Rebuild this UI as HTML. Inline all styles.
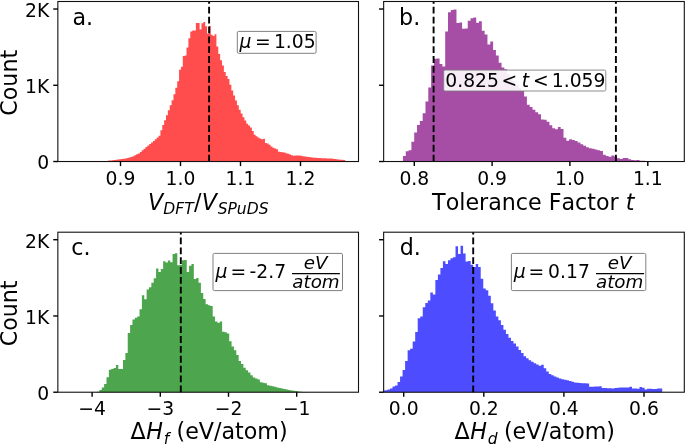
<!DOCTYPE html>
<html lang="en"><head><meta charset="utf-8"><title>Histograms</title>
<style>html,body{margin:0;padding:0;background:#fff;overflow:hidden}svg{display:block;will-change:transform;opacity:0.999}</style>
</head><body>
<svg width="685" height="445" viewBox="0 0 685 445" font-family="DejaVu Sans, Liberation Sans, sans-serif" style="font-kerning:none">
<rect x="0" y="0" width="685" height="445" fill="#ffffff"/>
<path d="M98.78,161.52L98.78,161.52L100.65,161.52L100.65,161.34L102.52,161.34L102.52,161.26L104.39,161.26L104.39,161.15L106.25,161.15L106.25,160.89L108.12,160.89L108.12,160.62L109.99,160.62L109.99,160.38L111.85,160.38L111.85,160.15L113.72,160.15L113.72,159.93L115.59,159.93L115.59,159.70L117.45,159.70L117.45,159.47L119.32,159.47L119.32,159.25L121.19,159.25L121.19,159.02L123.06,159.02L123.06,158.80L124.92,158.80L124.92,158.42L126.79,158.42L126.79,157.92L128.66,157.92L128.66,157.42L130.52,157.42L130.52,156.92L132.39,156.92L132.39,156.19L134.26,156.19L134.26,155.25L136.12,155.25L136.12,154.32L137.99,154.32L137.99,153.39L139.86,153.39L139.86,152.01L141.72,152.01L141.73,150.32L143.59,150.32L143.59,148.63L145.46,148.63L145.46,146.94L147.33,146.94L147.33,145.38L149.19,145.38L149.19,143.91L151.06,143.91L151.06,142.43L152.93,142.43L152.93,140.88L154.79,140.88L154.79,139.17L156.66,139.17L156.66,137.45L158.53,137.45L158.53,135.73L160.40,135.73L160.40,130.27L162.26,130.27L162.26,125.09L164.13,125.09L164.13,120.22L166.00,120.22L166.00,115.25L167.86,115.25L167.86,110.20L169.73,110.20L169.73,105.19L171.60,105.19L171.60,100.19L173.46,100.19L173.46,94.23L175.33,94.23L175.33,87.76L177.20,87.76L177.20,81.34L179.06,81.34L179.06,69.80L180.93,69.80L180.93,66.83L182.80,66.83L182.80,55.93L184.67,55.93L184.67,55.56L186.53,55.56L186.53,47.50L188.40,47.50L188.40,38.20L190.27,38.20L190.27,31.50L192.13,31.50L192.13,30.60L194.00,30.60L194.00,30.60L195.87,30.60L195.87,23.00L197.73,23.00L197.74,23.00L199.60,23.00L199.60,29.40L201.47,29.40L201.47,23.30L203.34,23.30L203.34,22.00L205.20,22.00L205.20,26.20L207.07,26.20L207.07,33.50L208.94,33.50L208.94,26.00L210.80,26.00L210.80,34.70L212.67,34.70L212.67,36.10L214.54,36.10L214.54,34.20L216.41,34.20L216.41,46.40L218.27,46.40L218.27,54.04L220.14,54.04L220.14,60.20L222.01,60.20L222.01,65.39L223.87,65.39L223.87,71.88L225.74,71.88L225.74,75.90L227.61,75.90L227.61,79.03L229.47,79.03L229.47,84.70L231.34,84.70L231.34,90.57L233.21,90.57L233.21,95.57L235.07,95.57L235.07,100.51L236.94,100.51L236.94,105.37L238.81,105.37L238.81,109.81L240.68,109.81L240.68,113.59L242.54,113.59L242.54,117.18L244.41,117.18L244.41,120.49L246.28,120.49L246.28,123.81L248.14,123.81L248.14,125.42L250.01,125.42L250.01,127.57L251.88,127.57L251.88,131.05L253.75,131.05L253.75,134.64L255.61,134.64L255.61,136.14L257.48,136.14L257.48,137.50L259.35,137.50L259.35,138.38L261.21,138.38L261.21,139.16L263.08,139.16L263.08,138.72L264.95,138.72L264.95,143.05L266.81,143.05L266.81,143.51L268.68,143.51L268.68,144.70L270.55,144.70L270.55,146.38L272.42,146.38L272.42,147.65L274.28,147.65L274.28,148.43L276.15,148.43L276.15,149.21L278.02,149.21L278.02,151.81L279.88,151.81L279.88,152.07L281.75,152.07L281.75,152.34L283.62,152.34L283.62,152.61L285.48,152.61L285.48,153.13L287.35,153.13L287.35,153.64L289.22,153.64L289.22,154.41L291.09,154.41L291.09,155.21L292.95,155.21L292.95,155.76L294.82,155.76L294.82,155.60L296.69,155.60L296.69,155.45L298.55,155.45L298.55,155.59L300.42,155.59L300.42,155.87L302.29,155.87L302.29,156.15L304.15,156.15L304.15,156.43L306.02,156.43L306.02,156.70L307.89,156.70L307.89,156.96L309.76,156.96L309.75,157.22L311.62,157.22L311.62,157.47L313.49,157.47L313.49,157.71L315.36,157.71L315.36,157.83L317.22,157.83L317.22,157.94L319.09,157.94L319.09,158.06L320.96,158.06L320.96,158.17L322.82,158.17L322.82,158.25L324.69,158.25L324.69,158.32L326.56,158.32L326.56,158.39L328.43,158.39L328.43,158.46L330.29,158.46L330.29,158.62L332.16,158.62L332.16,158.85L334.03,158.85L334.03,159.08L335.89,159.08L335.89,159.32L337.76,159.32L337.76,159.53L339.63,159.53L339.63,159.69L341.49,159.69L341.49,159.84L343.36,159.84L343.36,159.99L345.23,159.99L345.23,161.52Z" fill="#ff4d4d"/>
<path d="M209.10,161.52L209.10,1.50" stroke="#000" stroke-width="1.9" stroke-dasharray="6.8 3.06" fill="none"/>
<rect x="57.85" y="1.50" width="300.65" height="160.02" fill="none" stroke="#111" stroke-width="1.1"/>
<path d="M120.50,161.52v4.6" stroke="#000" stroke-width="1.4"/><text x="120.50" y="184.52" font-size="18.75" text-anchor="middle">0.9</text><path d="M180.50,161.52v4.6" stroke="#000" stroke-width="1.4"/><text x="180.50" y="184.52" font-size="18.75" text-anchor="middle">1.0</text><path d="M240.50,161.52v4.6" stroke="#000" stroke-width="1.4"/><text x="240.50" y="184.52" font-size="18.75" text-anchor="middle">1.1</text><path d="M300.50,161.52v4.6" stroke="#000" stroke-width="1.4"/><text x="300.50" y="184.52" font-size="18.75" text-anchor="middle">1.2</text>
<path d="M57.85,161.52h-4.6" stroke="#000" stroke-width="1.4"/><text x="49.25" y="169.32" font-size="18.75" text-anchor="end">0</text><path d="M57.85,85.27h-4.6" stroke="#000" stroke-width="1.4"/><text x="49.25" y="93.07" font-size="18.75" text-anchor="end">1K</text><path d="M57.85,9.02h-4.6" stroke="#000" stroke-width="1.4"/><text x="49.25" y="16.82" font-size="18.75" text-anchor="end">2K</text>
<text x="72.4" y="24.9" font-size="22.2">a.</text>
<rect x="237.30" y="31.40" width="78.80" height="21.90" rx="1.4" ry="1.4" fill="#fff" fill-opacity="1.0" stroke="#808080" stroke-opacity="1" stroke-width="1.0"/>
<text y="47.9" font-size="18.75"><tspan x="239.5" font-style="italic">μ</tspan><tspan x="255.1">=</tspan><tspan x="273.9">1.05</tspan></text>
<text y="209.7" font-size="22.2"><tspan x="148.1" font-style="italic">V</tspan><tspan font-size="15.54" dy="4.0" font-style="italic">DFT</tspan><tspan dy="-4.0" dx="0.4">/</tspan><tspan dx="0.3" font-style="italic">V</tspan><tspan font-size="15.54" dy="4.0" dx="0.6" font-style="italic">SPuDS</tspan></text>
<text transform="translate(17.4,82.8) rotate(-90)" font-size="22.2" text-anchor="middle">Count</text>
<path d="M400.13,161.52L400.13,161.05L402.94,161.05L402.94,155.90L405.76,155.90L405.76,151.20L408.58,151.20L408.58,150.20L411.40,150.20L411.40,141.70L414.21,141.70L414.21,132.60L417.03,132.60L417.03,124.90L419.85,124.90L419.85,121.00L422.66,121.00L422.66,113.30L425.48,113.30L425.48,101.60L428.30,101.60L428.30,87.40L431.12,87.40L431.12,65.50L433.93,65.50L433.93,58.80L436.75,58.80L436.75,58.50L439.57,58.50L439.57,64.00L442.38,64.00L442.38,66.60L445.20,66.60L445.20,31.60L448.02,31.60L448.02,12.30L450.83,12.30L450.83,9.90L453.65,9.90L453.65,9.50L456.47,9.50L456.47,23.10L459.28,23.10L459.28,22.40L462.10,22.40L462.10,28.80L464.92,28.80L464.92,28.60L467.74,28.60L467.74,20.70L470.55,20.70L470.55,18.20L473.37,18.20L473.37,17.60L476.19,17.60L476.19,22.70L479.00,22.70L479.00,21.20L481.82,21.20L481.82,30.70L484.64,30.70L484.64,34.60L487.45,34.60L487.45,44.40L490.27,44.40L490.27,41.40L493.09,41.40L493.09,50.00L495.91,50.00L495.91,55.40L498.72,55.40L498.72,62.80L501.54,62.80L501.54,67.40L504.36,67.40L504.36,69.16L507.17,69.16L507.17,74.37L509.99,74.37L509.99,78.13L512.81,78.13L512.81,81.62L515.62,81.62L515.62,85.03L518.44,85.03L518.44,87.85L521.26,87.85L521.26,90.67L524.08,90.67L524.08,96.57L526.89,96.57L526.89,104.67L529.71,104.67L529.71,106.99L532.53,106.99L532.53,109.74L535.34,109.74L535.34,112.23L538.16,112.23L538.16,114.17L540.98,114.17L540.98,119.52L543.79,119.52L543.79,119.82L546.61,119.82L546.61,121.68L549.43,121.68L549.43,125.34L552.25,125.34L552.25,128.15L555.06,128.15L555.06,129.26L557.88,129.26L557.88,126.91L560.70,126.91L560.70,128.97L563.51,128.97L563.51,137.67L566.33,137.67L566.33,140.75L569.15,140.75L569.15,139.17L571.97,139.17L571.97,139.92L574.78,139.92L574.78,140.93L577.60,140.93L577.60,142.58L580.42,142.58L580.42,144.29L583.23,144.29L583.23,145.76L586.05,145.76L586.05,147.21L588.87,147.21L588.87,148.26L591.68,148.26L591.68,148.82L594.50,148.82L594.50,149.38L597.32,149.38L597.32,150.31L600.13,150.31L600.13,151.05L602.95,151.05L602.95,154.73L605.77,154.73L605.77,155.91L608.59,155.91L608.59,156.77L611.40,156.77L611.40,155.42L614.22,155.42L614.22,156.38L617.04,156.38L617.04,158.30L619.85,158.30L619.85,159.00L622.67,159.00L622.67,158.10L625.49,158.10L625.49,158.10L628.31,158.10L628.31,159.20L631.12,159.20L631.12,159.90L633.94,159.90L633.94,160.30L636.76,160.30L636.76,160.10L639.57,160.10L639.57,160.80L642.39,160.80L642.39,160.85L645.21,160.85L645.21,160.90L648.02,160.90L648.02,160.95L650.84,160.95L650.84,161.12L653.66,161.12L653.66,161.52Z" fill="#a64da6"/>
<path d="M433.60,161.52L433.60,1.50" stroke="#000" stroke-width="1.9" stroke-dasharray="6.8 3.06" fill="none"/>
<path d="M615.90,161.52L615.90,1.50" stroke="#000" stroke-width="1.9" stroke-dasharray="6.8 3.06" fill="none"/>
<rect x="383.65" y="1.50" width="300.65" height="160.02" fill="none" stroke="#111" stroke-width="1.1"/>
<path d="M414.30,161.52v4.6" stroke="#000" stroke-width="1.4"/><text x="414.30" y="184.52" font-size="18.75" text-anchor="middle">0.8</text><path d="M492.10,161.52v4.6" stroke="#000" stroke-width="1.4"/><text x="492.10" y="184.52" font-size="18.75" text-anchor="middle">0.9</text><path d="M569.90,161.52v4.6" stroke="#000" stroke-width="1.4"/><text x="569.90" y="184.52" font-size="18.75" text-anchor="middle">1.0</text><path d="M647.80,161.52v4.6" stroke="#000" stroke-width="1.4"/><text x="647.80" y="184.52" font-size="18.75" text-anchor="middle">1.1</text>
<path d="M383.65,161.52h-4.6" stroke="#000" stroke-width="1.4"/><path d="M383.65,85.27h-4.6" stroke="#000" stroke-width="1.4"/><path d="M383.65,9.02h-4.6" stroke="#000" stroke-width="1.4"/>
<text x="399.1" y="24.9" font-size="22.2">b.</text>
<rect x="443.70" y="70.10" width="162.10" height="20.90" rx="1.4" ry="1.4" fill="#fff" fill-opacity="0.9" stroke="#808080" stroke-opacity="0.9" stroke-width="1.0"/>
<text y="86.8" font-size="18.75"><tspan x="445.3">0.825</tspan><tspan x="501.6">&lt;</tspan><tspan x="521.8" font-style="italic">t</tspan><tspan x="533.1">&lt;</tspan><tspan x="551.8">1.059</tspan></text>
<text y="209.8" font-size="22.2"><tspan x="432.1">Tolerance Factor </tspan><tspan font-style="italic">t</tspan></text>
<path d="M97.06,392.22L97.06,391.81L99.42,391.81L99.42,389.90L101.78,389.90L101.78,387.40L104.14,387.40L104.14,384.00L106.50,384.00L106.50,377.30L108.86,377.30L108.86,369.70L111.22,369.70L111.22,368.90L113.58,368.90L113.58,368.00L115.94,368.00L115.94,365.10L118.30,365.10L118.30,368.90L120.66,368.90L120.66,368.90L123.02,368.90L123.02,360.00L125.38,360.00L125.38,352.90L127.74,352.90L127.74,333.00L130.10,333.00L130.10,325.00L132.46,325.00L132.46,319.60L134.82,319.60L134.82,317.80L137.18,317.80L137.18,316.50L139.54,316.50L139.54,309.20L141.90,309.20L141.90,295.30L144.26,295.30L144.26,299.30L146.62,299.30L146.62,289.50L148.98,289.50L148.98,287.20L151.34,287.20L151.34,282.70L153.70,282.70L153.70,278.20L156.06,278.20L156.06,268.40L158.42,268.40L158.42,271.90L160.78,271.90L160.78,269.00L163.14,269.00L163.14,261.30L165.50,261.30L165.50,262.60L167.86,262.60L167.86,260.60L170.22,260.60L170.22,262.30L172.58,262.30L172.58,254.10L174.94,254.10L174.94,253.30L177.30,253.30L177.30,265.20L179.66,265.20L179.66,264.80L182.02,264.80L182.02,260.30L184.38,260.30L184.38,259.90L186.74,259.90L186.74,272.00L189.10,272.00L189.10,265.70L191.46,265.70L191.46,263.90L193.82,263.90L193.82,279.10L196.18,279.10L196.18,277.90L198.54,277.90L198.54,282.70L200.90,282.70L200.90,292.90L203.26,292.90L203.26,298.90L205.62,298.90L205.62,304.30L207.98,304.30L207.98,305.20L210.34,305.20L210.34,306.10L212.70,306.10L212.70,316.40L215.06,316.40L215.06,321.40L217.42,321.40L217.42,322.63L219.78,322.63L219.78,321.48L222.14,321.48L222.14,331.80L224.50,331.80L224.50,332.17L226.86,332.17L226.86,333.44L229.22,333.44L229.22,341.27L231.58,341.27L231.58,346.50L233.94,346.50L233.94,350.28L236.30,350.28L236.30,354.96L238.66,354.96L238.66,360.91L241.02,360.91L241.02,363.96L243.38,363.96L243.38,367.75L245.74,367.75L245.74,370.18L248.10,370.18L248.10,372.41L250.46,372.41L250.46,375.21L252.82,375.21L252.82,377.55L255.18,377.55L255.18,378.53L257.54,378.53L257.54,379.52L259.90,379.52L259.90,382.24L262.26,382.24L262.26,382.73L264.62,382.73L264.62,383.22L266.98,383.22L266.98,385.26L269.34,385.26L269.34,385.85L271.70,385.85L271.70,386.33L274.06,386.33L274.06,386.86L276.42,386.86L276.42,387.41L278.78,387.41L278.78,387.97L281.14,387.97L281.14,388.50L283.50,388.50L283.50,389.04L285.86,389.04L285.86,389.57L288.22,389.57L288.22,390.01L290.58,390.01L290.58,390.42L292.94,390.42L292.94,390.81L295.30,390.81L295.30,391.11L297.66,391.11L297.66,391.41L300.02,391.41L300.02,391.67L302.38,391.67L302.38,391.89L304.74,391.89L304.74,392.00L307.10,392.00L307.10,392.22Z" fill="#4da64d"/>
<path d="M180.80,392.22L180.80,232.20" stroke="#000" stroke-width="1.9" stroke-dasharray="6.8 3.06" fill="none"/>
<rect x="57.85" y="232.20" width="300.65" height="160.02" fill="none" stroke="#111" stroke-width="1.1"/>
<path d="M92.10,392.22v4.6" stroke="#000" stroke-width="1.4"/><text x="92.10" y="415.22" font-size="18.75" text-anchor="middle">−4</text><path d="M160.30,392.22v4.6" stroke="#000" stroke-width="1.4"/><text x="160.30" y="415.22" font-size="18.75" text-anchor="middle">−3</text><path d="M228.50,392.22v4.6" stroke="#000" stroke-width="1.4"/><text x="228.50" y="415.22" font-size="18.75" text-anchor="middle">−2</text><path d="M296.70,392.22v4.6" stroke="#000" stroke-width="1.4"/><text x="296.70" y="415.22" font-size="18.75" text-anchor="middle">−1</text>
<path d="M57.85,392.22h-4.6" stroke="#000" stroke-width="1.4"/><text x="49.25" y="400.02" font-size="18.75" text-anchor="end">0</text><path d="M57.85,315.97h-4.6" stroke="#000" stroke-width="1.4"/><text x="49.25" y="323.77" font-size="18.75" text-anchor="end">1K</text><path d="M57.85,239.72h-4.6" stroke="#000" stroke-width="1.4"/><text x="49.25" y="247.52" font-size="18.75" text-anchor="end">2K</text>
<text x="71.3" y="255.3" font-size="22.2">c.</text>
<rect x="213.00" y="253.40" width="129.50" height="37.20" rx="1.4" ry="1.4" fill="#fff" fill-opacity="1.0" stroke="#808080" stroke-opacity="1" stroke-width="1.0"/>
<text y="278.4" font-size="18.75"><tspan x="215.4" font-style="italic">μ</tspan><tspan x="230.5">=</tspan><tspan x="249.6">-2.7</tspan></text>
<path d="M292.0,273.6H339.9" stroke="#000" stroke-width="1.1"/>
<text font-size="18.3" font-style="italic"><tspan x="303.8" y="269.2">eV</tspan><tspan x="292.3" y="287.9">atom</tspan></text>
<text y="439.3" font-size="22.2"><tspan x="130.6">Δ</tspan><tspan dx="0.5" font-style="italic">H</tspan><tspan font-size="15.54" dy="5.0" dx="0.7" font-style="italic">f</tspan><tspan dy="-5.0" dx="0.3"> (eV/atom)</tspan></text>
<text transform="translate(17.4,313.4) rotate(-90)" font-size="22.2" text-anchor="middle">Count</text>
<path d="M383.60,392.22L383.60,390.60L384.95,390.60L384.95,390.30L387.47,390.30L387.47,389.40L389.99,389.40L389.99,388.40L392.51,388.40L392.51,386.50L395.03,386.50L395.03,385.50L397.55,385.50L397.55,381.90L400.07,381.90L400.07,376.40L402.59,376.40L402.59,370.00L405.11,370.00L405.11,361.00L407.63,361.00L407.63,350.20L410.15,350.20L410.15,348.70L412.67,348.70L412.67,341.60L415.19,341.60L415.19,332.00L417.72,332.00L417.72,318.20L420.24,318.20L420.24,316.50L422.76,316.50L422.76,307.30L425.28,307.30L425.28,303.00L427.80,303.00L427.80,300.60L430.32,300.60L430.32,292.50L432.84,292.50L432.84,294.40L435.36,294.40L435.36,280.10L437.88,280.10L437.88,274.40L440.40,274.40L440.40,268.10L442.92,268.10L442.92,261.30L445.44,261.30L445.44,264.10L447.96,264.10L447.96,260.30L450.48,260.30L450.48,258.20L453.00,258.20L453.00,257.20L455.52,257.20L455.52,246.20L458.04,246.20L458.04,253.90L460.56,253.90L460.56,245.70L463.08,245.70L463.08,253.50L465.61,253.50L465.60,261.50L468.13,261.50L468.13,261.00L470.65,261.00L470.65,264.80L473.17,264.80L473.17,267.00L475.69,267.00L475.69,264.10L478.21,264.10L478.21,267.00L480.73,267.00L480.73,278.70L483.25,278.70L483.25,288.50L485.77,288.50L485.77,290.30L488.29,290.30L488.29,295.73L490.81,295.73L490.81,303.25L493.33,303.25L493.33,310.48L495.85,310.48L495.85,316.48L498.37,316.48L498.37,320.34L500.89,320.34L500.89,325.07L503.41,325.07L503.41,329.68L505.93,329.68L505.93,333.90L508.45,333.90L508.45,337.74L510.97,337.74L510.97,340.92L513.49,340.92L513.49,343.59L516.01,343.59L516.01,346.62L518.54,346.62L518.54,349.97L521.06,349.97L521.06,353.12L523.58,353.12L523.58,356.20L526.10,356.20L526.10,358.29L528.62,358.29L528.62,360.22L531.14,360.22L531.14,361.71L533.66,361.71L533.66,363.20L536.18,363.20L536.18,364.56L538.70,364.56L538.70,365.87L541.22,365.87L541.22,364.86L543.74,364.86L543.74,368.36L546.26,368.36L546.26,371.62L548.78,371.62L548.78,374.03L551.30,374.03L551.30,375.31L553.82,375.31L553.82,376.59L556.34,376.59L556.34,377.57L558.86,377.57L558.86,378.52L561.38,378.52L561.38,379.27L563.90,379.27L563.90,379.80L566.42,379.80L566.42,380.34L568.95,380.34L568.95,381.03L571.47,381.03L571.47,381.85L573.99,381.85L573.99,382.62L576.51,382.62L576.51,382.80L579.03,382.80L579.03,382.99L581.55,382.99L581.55,383.17L584.07,383.17L584.07,383.35L586.59,383.35L586.59,383.54L589.11,383.54L589.11,386.76L591.63,386.76L591.63,386.65L594.15,386.65L594.15,386.54L596.67,386.54L596.67,386.42L599.19,386.42L599.19,386.31L601.71,386.31L601.71,387.93L604.23,387.93L604.23,388.04L606.75,388.04L606.75,388.16L609.27,388.16L609.27,388.27L611.79,388.27L611.79,388.38L614.31,388.38L614.31,388.06L616.83,388.06L616.84,387.65L619.36,387.65L619.36,387.60L621.88,387.60L621.88,387.60L624.40,387.60L624.40,387.60L626.92,387.60L626.92,387.60L629.44,387.60L629.44,386.71L631.96,386.71L631.96,388.42L634.48,388.42L634.48,388.54L637.00,388.54L637.00,388.66L639.52,388.66L639.52,387.12L642.04,387.12L642.04,387.71L644.56,387.71L644.56,389.47L647.08,389.47L647.08,388.84L649.60,388.84L649.60,388.85L652.12,388.85L652.12,389.05L654.64,389.05L654.64,389.05L657.16,389.05L657.16,388.42L659.68,388.42L659.68,388.60L662.20,388.60L662.20,392.22L664.72,392.22L664.72,392.22Z" fill="#4d4dff"/>
<path d="M473.20,392.22L473.20,232.20" stroke="#000" stroke-width="1.9" stroke-dasharray="6.8 3.06" fill="none"/>
<rect x="383.65" y="232.20" width="300.65" height="160.02" fill="none" stroke="#111" stroke-width="1.1"/>
<path d="M403.70,392.22v4.6" stroke="#000" stroke-width="1.4"/><text x="403.70" y="415.22" font-size="18.75" text-anchor="middle">0.0</text><path d="M483.80,392.22v4.6" stroke="#000" stroke-width="1.4"/><text x="483.80" y="415.22" font-size="18.75" text-anchor="middle">0.2</text><path d="M563.90,392.22v4.6" stroke="#000" stroke-width="1.4"/><text x="563.90" y="415.22" font-size="18.75" text-anchor="middle">0.4</text><path d="M644.00,392.22v4.6" stroke="#000" stroke-width="1.4"/><text x="644.00" y="415.22" font-size="18.75" text-anchor="middle">0.6</text>
<path d="M383.65,392.22h-4.6" stroke="#000" stroke-width="1.4"/><path d="M383.65,315.97h-4.6" stroke="#000" stroke-width="1.4"/><path d="M383.65,239.72h-4.6" stroke="#000" stroke-width="1.4"/>
<text x="399.7" y="255.3" font-size="22.2">d.</text>
<rect x="511.40" y="253.40" width="134.40" height="37.20" rx="1.4" ry="1.4" fill="#fff" fill-opacity="1.0" stroke="#808080" stroke-opacity="1" stroke-width="1.0"/>
<text y="278.4" font-size="18.75"><tspan x="513.7" font-style="italic">μ</tspan><tspan x="528.6">=</tspan><tspan x="548.1">0.17</tspan></text>
<path d="M596.0,273.6H644.1" stroke="#000" stroke-width="1.1"/>
<text font-size="18.3" font-style="italic"><tspan x="607.8" y="269.2">eV</tspan><tspan x="596.0" y="287.9">atom</tspan></text>
<text y="439.3" font-size="22.2"><tspan x="454.6">Δ</tspan><tspan dx="0.5" font-style="italic">H</tspan><tspan font-size="15.54" dy="5.0" dx="0.7" font-style="italic">d</tspan><tspan dy="-5.0" dx="-0.7"> (eV/atom)</tspan></text>
</svg>
</body></html>
